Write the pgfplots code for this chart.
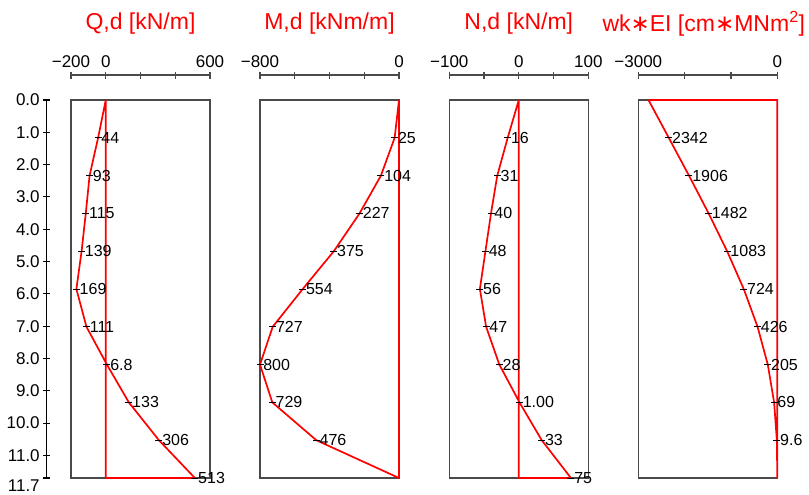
\documentclass[border=0pt]{standalone}
\usepackage{pgfplots}
\pgfplotsset{compat=1.18}
\usepackage{fontspec}
\setmainfont{Liberation Sans}
\newfontfamily\djv{DejaVu Sans}
\definecolor{boxgray}{HTML}{4A4A4A}
\begin{document}
\begin{tikzpicture}
\path[use as bounding box] (0,0) rectangle (809bp,-495bp);
\pgfplotsset{
  panel/.style={scale only axis, width=139bp, height=378bp, y dir=reverse, ymin=0, ymax=11.7,
    xtick=\empty, ytick=\empty, axis line style={draw=boxgray, line width=1.4bp}, clip=false, anchor=north west},
  scalebar/.style={scale only axis, width=139bp, height=10bp, anchor=north west, hide y axis, axis x line*=top, ymin=0, ymax=1,
    tick align=center, major tick length=7bp, x axis line style={draw=boxgray, line width=1.6bp},
    every tick/.style={draw=boxgray, line width=1.2bp},
    xticklabel style={font=\fontsize{17bp}{19bp}\selectfont, text=black},
    title style={font=\fontsize{23bp}{27bp}\selectfont, text=red, anchor=center, at={(0.5,1)}, yshift=45bp}},
  prof/.style={red, line width=1.7bp, line join=round, mark=none},
  lab/.style={only marks, mark=-, mark size=3.5bp, mark options={black, line width=0.7bp},
    point meta=explicit symbolic, nodes near coords,
    every node near coord/.append style={anchor=west, font=\fontsize{16bp}{18bp}\selectfont, text=black, inner sep=0.5bp, xshift=2.5bp}},
}
% depth axis
\begin{axis}[at={(46.7bp,-100bp)}, anchor=north west, scale only axis, width=10bp, height=378bp,
  hide x axis, axis y line*=left, y dir=reverse, ymin=0, ymax=11.7, xmin=0, xmax=1,
  ytick={0,1,...,11}, yticklabels={0.0,1.0,2.0,3.0,4.0,5.0,6.0,7.0,8.0,9.0,10.0,11.0},
  extra y ticks={11.7}, extra y tick labels={11.7},
  extra y tick style={yticklabel style={anchor=north east, yshift=0bp, inner ysep=1.5bp}},
  tick align=center, major tick length=7bp,
  y axis line style={black, line width=1.1bp}, every tick/.style={black, line width=1.1bp},
  yticklabel style={font=\fontsize{17bp}{19bp}\selectfont}]
\addplot[draw=none] coordinates {(0,0)};
\end{axis}
% ---------- Panel 1: Q,d
\begin{axis}[scalebar, at={(71bp,-75bp)}, xmin=-200, xmax=600, xtick={-200,0,200,400,600},
  xticklabels={−200,0,,,600}, title={Q,d [kN/m]}]
\addplot[draw=none] coordinates {(0,0)};
\end{axis}
\begin{axis}[panel, at={(71bp,-100bp)}, xmin=-200, xmax=600]
\addplot[prof] coordinates {(0,0) (-44,1.17) (-93,2.34) (-115,3.51) (-139,4.68) (-169,5.85) (-111,7.02) (6.8,8.19) (133,9.36) (306,10.53) (513,11.7) (0,11.7) (0,0)};
\addplot[lab] table[x=x, y=y, meta=l, row sep=\\] {x y l\\ -44 1.17 44\\ -93 2.34 93\\ -115 3.51 115\\ -139 4.68 139\\ -169 5.85 169\\ -111 7.02 111\\ 6.8 8.19 6.8\\ 133 9.36 133\\ 306 10.53 306\\ 513 11.7 513\\};
\end{axis}
% ---------- Panel 2: M,d
\begin{axis}[scalebar, at={(260bp,-75bp)}, xmin=-800, xmax=0, xtick={-800,-600,-400,-200,0},
  xticklabels={−800,,,,0}, title={M,d [kNm/m]}]
\addplot[draw=none] coordinates {(0,0)};
\end{axis}
\begin{axis}[panel, at={(260bp,-100bp)}, xmin=-800, xmax=0]
\addplot[prof] coordinates {(0,0) (-25,1.17) (-104,2.34) (-227,3.51) (-375,4.68) (-554,5.85) (-727,7.02) (-800,8.19) (-729,9.36) (-476,10.53) (0,11.7) (0,0)};
\addplot[lab] table[x=x, y=y, meta=l, row sep=\\] {x y l\\ -25 1.17 25\\ -104 2.34 104\\ -227 3.51 227\\ -375 4.68 375\\ -554 5.85 554\\ -727 7.02 727\\ -800 8.19 800\\ -729 9.36 729\\ -476 10.53 476\\};
\end{axis}
% ---------- Panel 3: N,d
\begin{axis}[scalebar, at={(449.3bp,-75bp)}, xmin=-100, xmax=100, xtick={-100,-50,0,50,100},
  xticklabels={−100,,0,,100}, title={N,d [kN/m]}]
\addplot[draw=none] coordinates {(0,0)};
\end{axis}
\begin{axis}[panel, at={(449.3bp,-100bp)}, xmin=-100, xmax=100]
\addplot[prof] coordinates {(0,0) (-16,1.17) (-31,2.34) (-40,3.51) (-48,4.68) (-56,5.85) (-47,7.02) (-28,8.19) (1.0,9.36) (33,10.53) (75,11.7) (0,11.7) (0,0)};
\addplot[lab] table[x=x, y=y, meta=l, row sep=\\] {x y l\\ -16 1.17 16\\ -31 2.34 31\\ -40 3.51 40\\ -48 4.68 48\\ -56 5.85 56\\ -47 7.02 47\\ -28 8.19 28\\ 1.0 9.36 1.00\\ 33 10.53 33\\ 75 11.7 75\\};
\end{axis}
% ---------- Panel 4: wk*EI
\begin{axis}[scalebar, at={(638.3bp,-75bp)}, xmin=-3000, xmax=0, xtick={-3000,-2000,-1000,0},
  xticklabels={−3000,,,0}, title={wk{\djv ∗}EI [cm{\djv ∗}MNm\textsuperscript{2}]},
  title style={xshift=-4bp}]
\addplot[draw=none] coordinates {(0,0)};
\end{axis}
\begin{axis}[panel, at={(638.3bp,-100bp)}, xmin=-3000, xmax=0]
\addplot[prof] coordinates {(-2780,0) (-2342,1.17) (-1906,2.34) (-1482,3.51) (-1083,4.68) (-724,5.85) (-426,7.02) (-205,8.19) (-69,9.36) (-9.6,10.53) (0,11.7) (0,0) (-2780,0)};
\addplot[lab] table[x=x, y=y, meta=l, row sep=\\] {x y l\\ -2342 1.17 2342\\ -1906 2.34 1906\\ -1482 3.51 1482\\ -1083 4.68 1083\\ -724 5.85 724\\ -426 7.02 426\\ -205 8.19 205\\ -69 9.36 69\\ -9.6 10.53 9.6\\};
\end{axis}
\end{tikzpicture}
\end{document}
